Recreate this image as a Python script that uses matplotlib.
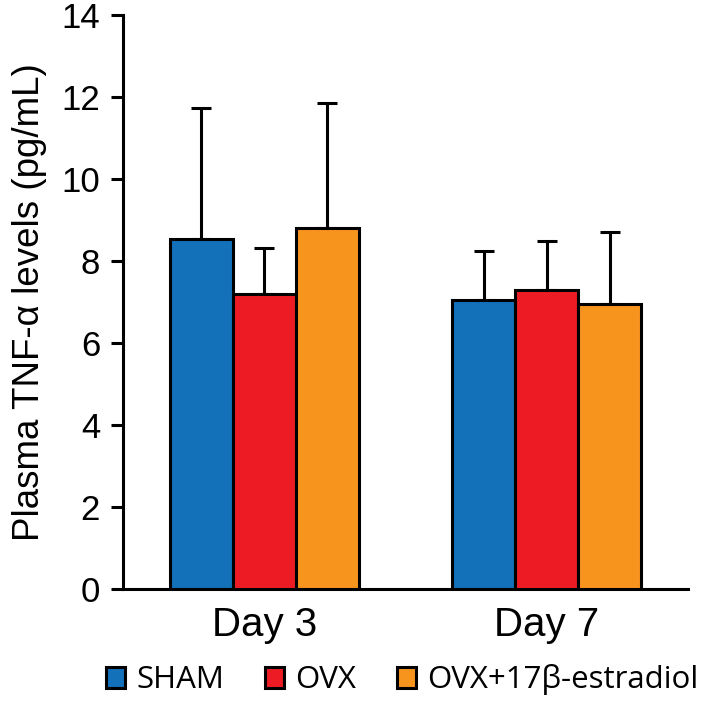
import numpy as np
import matplotlib.pyplot as plt
from matplotlib.patches import Patch

# data
days = ['Day 3', 'Day 7']
groups = ['SHAM', 'OVX', 'OVX+17β-estradiol']
colors = ['#1271b9', '#ed1c24', '#f7941e']
means = [[8.52, 7.04],
         [7.20, 7.29],
         [8.80, 6.95]]
sems = [[3.21, 1.20],
        [1.10, 1.18],
        [3.04, 1.76]]

plt.rcParams['font.family'] = ['Liberation Sans', 'DejaVu Sans']

fig = plt.figure(figsize=(7.09, 7.01), dpi=100)
ax = fig.add_axes([0.1735, 0.160, 0.7965, 0.819])

x = np.arange(len(days))
w = 0.223
for i in range(len(groups)):
    pos = x + (i - 1) * w
    ax.bar(pos, means[i], w, color=colors[i], edgecolor='black', linewidth=2.2, zorder=3)
    ax.errorbar(pos, means[i], yerr=[np.zeros(len(days)), sems[i]], fmt='none',
                ecolor='black', elinewidth=2.2, capsize=7, capthick=2.2, zorder=2)

ax.set_xlim(-0.5, 1.5)
ax.set_ylim(0, 14)
ax.set_yticks(range(0, 15, 2))
ax.set_xticks(x)
ax.set_xticklabels(days, fontsize=29)
ax.tick_params(axis='y', labelsize=25, width=2.2, length=8.5, pad=8)
ax.tick_params(axis='x', length=0, pad=12)
ax.spines['top'].set_visible(False)
ax.spines['right'].set_visible(False)
ax.spines['left'].set_linewidth(2.2)
ax.spines['bottom'].set_linewidth(2.2)
ax.set_ylabel('Plasma TNF-α levels (pg/mL)', fontsize=26.5, labelpad=10)

handles = [Patch(facecolor=c, edgecolor='black', linewidth=2.2) for c in colors]
fig.legend(handles, groups, loc='center', bbox_to_anchor=(0.567, 0.03), ncol=3,
           frameon=False, handlelength=0.62, handleheight=0.7, handletextpad=0.35,
           columnspacing=1.3, borderpad=0, prop={'family': ['Open Sans', 'DejaVu Sans'], 'size': 22.5})

fig.savefig('out.png', dpi=100)
